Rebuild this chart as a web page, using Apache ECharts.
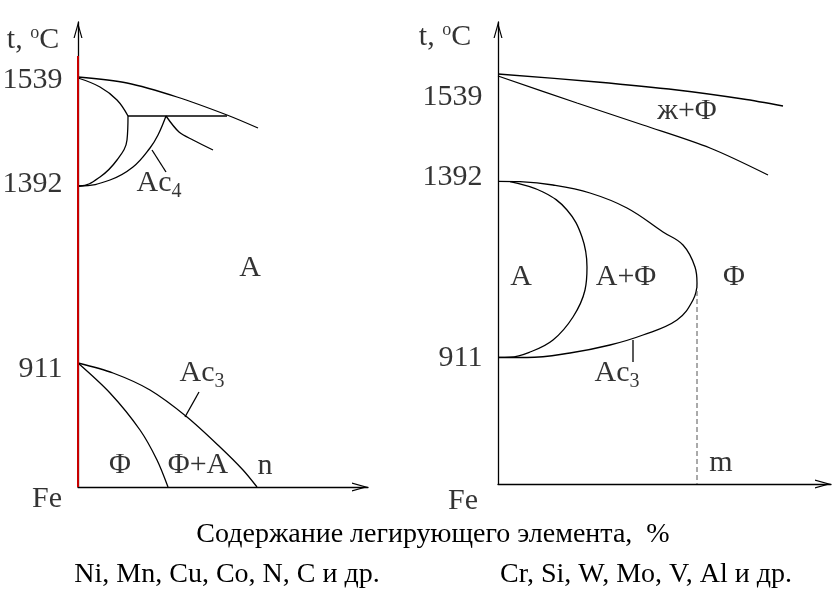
<!DOCTYPE html>
<html><head><meta charset="utf-8">
<script src="https://cdn.jsdelivr.net/npm/echarts@6/dist/echarts.min.js"></script>
<style>html,body{margin:0;padding:0;background:#fff}#c{width:840px;height:595px}</style>
</head><body><div id="c"></div>
<script>
// ---- Left diagram (elements widening the γ-region), schematic units ----
const leftLiquidus      = [[0,410],[49,404],[99,390],[149,372],[180,359]];
const leftDeltaUpper    = [[0,409],[22,400],[39,387],[50,371]];
const leftDeltaLower    = [[50,371],[49,347],[39,327],[22,310],[2,301],[0,301]];
const leftPeritectic    = [[50,371],[149,371]];
const leftAc4           = [[88,371],[80,352],[72,339],[55,320],[32,307],[2,301],[0,301]];
const leftGammaLiquid   = [[88,371],[101,355],[115,347],[135,337]];
const leftAc4Leader     = [[74,337],[88,315]];
const leftAlphaBoundary = [[0,124],[32,94],[62,57],[79,27],[90,0]];
const leftAc3           = [[0,124],[35,114],[72,97],[109,70],[142,40],[165,17],[179,0]];
const leftAc3Leader     = [[107,70],[121,95]];
const pureIron          = [[0,0],[0,431]];

const leftTickLabels = ['1539','1392','911'];
const leftTickY      = [407, 303, 118];
const leftRegionLabels = ['A','Φ','Φ+A','n'];
const leftRegionPos    = [[172,219],[42,22],[120,22],[187,21]];

// ---- Right diagram (elements closing the γ-region) ----
const rightLiquidus = [[0,410],[99,402],[179,394],[245,385],[285,378]];
const rightSolidus  = [[0,408],[79,381],[145,359],[212,336],[270,309]];
const rightAc3Outer = [[0,302.7],[22,302.3],[55,299],[92,291],[129,276],[165,252],[185,239],[197,217],[199,201],[195,184],[179,164],[145,149],[112,139],[72,131],[29,126.5],[0,126.5]];
const rightInner    = [[12,302.3],[45,292],[69,274],[84,247],[89,217],[87,194],[75,167],[55,144],[32,132],[12,126.8],[0,126.6]];
const rightMLine    = [[199,201],[199,0]];
const rightAc3Leader= [[135,144],[135,122]];

const rightTickLabels = ['1539','1392','911'];
const rightTickY      = [387, 307, 126];
const rightRegionLabels = ['ж+Φ','A','A+Φ','Φ','m'];
const rightRegionPos    = [[189,373],[23,207],[128,207],[236,207],[223,21]];

const axisTitle = 't, {sup|o}C';
const originLabel = 'Fe';
const xAxisText = 'Содержание легирующего элемента,  %';
const leftElements = 'Ni, Mn, Cu, Co, N, C и др.';
const rightElements = 'Cr, Si, W, Mo, V, Al и др.';

const FONT = '"Liberation Serif","Times New Roman",serif';
const arrowPath = 'path://M4.5 0 L9 16 L7.8 16 L4.5 4.3 L1.2 16 L0 16 Z';

function axisBase(extra){
  return Object.assign({
    type:'value',
    axisLine:{show:true, symbol:['none', arrowPath], symbolSize:[9,16], symbolOffset:[0,-8],
      lineStyle:{color:'#000', width:1.3}},
    axisTick:{show:false}, axisLabel:{show:false}, splitLine:{show:false}
  }, extra);
}
function curve(g, data, smooth, extra){
  return Object.assign({type:'line', xAxisIndex:g, yAxisIndex:g, data:data, smooth:smooth,
    symbol:'none', silent:true, clip:false,
    lineStyle:{color:'#000', width:1.3}}, extra||{});
}
const rich = {
  sup:{fontSize:18, fontFamily:FONT, color:'#000', verticalAlign:'top', lineHeight:32},
  sub:{fontSize:20, fontFamily:FONT, color:'#000', verticalAlign:'top', lineHeight:22, padding:[14,0,0,0]},
  n:{fontSize:30, fontFamily:FONT, color:'#000', lineHeight:36, verticalAlign:'top'}
};
function lab(v, text, pos){
  return {value:v, label:{formatter:text, position:pos||'inside', distance:0}};
}
function labelSeries(g, items){
  return {type:'scatter', xAxisIndex:g, yAxisIndex:g, symbolSize:1, clip:false, silent:true,
    itemStyle:{color:'rgba(0,0,0,0)'},
    label:{show:true, color:'#000', fontFamily:FONT, fontSize:30, lineHeight:32, rich:rich},
    data:items, z:5};
}

const leftItems = [];
leftTickLabels.forEach((t,i)=>leftItems.push(lab([-15,leftTickY[i]], t, 'left')));
leftRegionLabels.forEach((t,i)=>leftItems.push(lab(leftRegionPos[i], t)));
leftItems.push(lab([-45,447], axisTitle));
leftItems.push(lab([-31,-12], originLabel));
leftItems.push(lab([58,301], '{n|Ac}{sub|4}', 'right'));
leftItems.push(lab([101,111], '{n|Ac}{sub|3}', 'right'));

const rightItems = [];
rightTickLabels.forEach((t,i)=>rightItems.push(lab([-15,rightTickY[i]], t, 'left')));
rightRegionLabels.forEach((t,i)=>rightItems.push(lab(rightRegionPos[i], t)));
rightItems.push(lab([-53,447], axisTitle));
rightItems.push(lab([-35,-17], originLabel));
rightItems.push(lab([96,108], '{n|Ac}{sub|3}', 'right'));

const chart = echarts.init(document.getElementById('c'), null, {renderer:'canvas'});
chart.setOption({
  animation:false,
  backgroundColor:'#fff',
  grid:[{left:78, top:22, width:290, height:465},{left:498, top:22, width:333, height:462}],
  xAxis:[axisBase({gridIndex:0, min:0, max:290}), axisBase({gridIndex:1, min:0, max:333})],
  yAxis:[axisBase({gridIndex:0, min:0, max:465}), axisBase({gridIndex:1, min:0, max:462})],
  series:[
    curve(0, leftLiquidus, 0.3),
    curve(0, leftDeltaUpper, 0.4),
    curve(0, leftDeltaLower, 0.4),
    curve(0, leftPeritectic, false),
    curve(0, leftAc4, 0.4),
    curve(0, leftGammaLiquid, 0.3),
    curve(0, leftAc4Leader, false),
    curve(0, leftAlphaBoundary, 0.3),
    curve(0, leftAc3, 0.3),
    curve(0, leftAc3Leader, false),
    curve(0, pureIron, false, {lineStyle:{color:'#c80000', width:2}, z:4}),
    curve(1, rightLiquidus, 0.3),
    curve(1, rightSolidus, 0.3),
    curve(1, rightAc3Outer, 0.4),
    curve(1, rightInner, 0.4),
    curve(1, rightMLine, false, {lineStyle:{color:'#555', width:1, type:[5,3]}}),
    curve(1, rightAc3Leader, false),
    labelSeries(0, leftItems),
    labelSeries(1, rightItems)
  ],
  graphic:[
    {type:'text', x:433, y:535, style:{text:xAxisText, font:'28px '+FONT, fill:'#000', textAlign:'center', textVerticalAlign:'middle'}},
    {type:'text', x:227, y:575, style:{text:leftElements, font:'28px '+FONT, fill:'#000', textAlign:'center', textVerticalAlign:'middle'}},
    {type:'text', x:646, y:575, style:{text:rightElements, font:'28px '+FONT, fill:'#000', textAlign:'center', textVerticalAlign:'middle'}}
  ]
});
</script>
</body></html>
